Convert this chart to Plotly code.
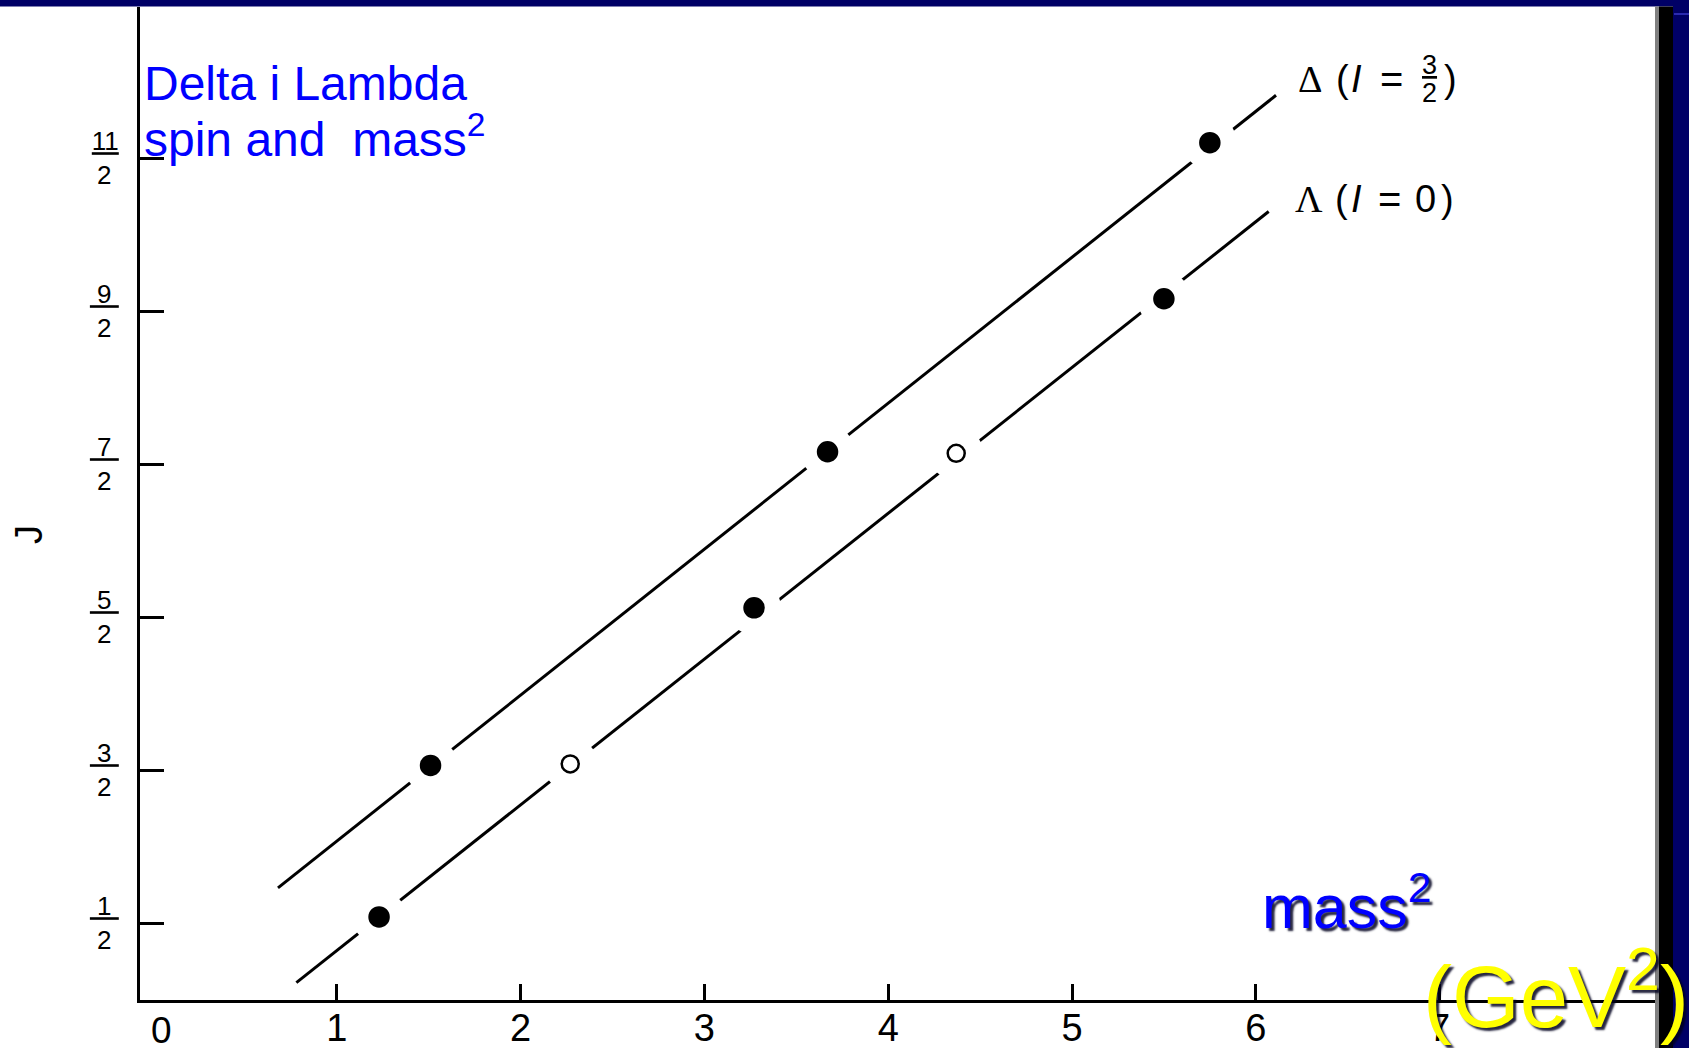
import plotly.graph_objects as go

# ---------------- data ----------------
delta_mass2 = [1.51, 3.67, 5.75]
delta_J = [1.53, 3.58, 5.60]
delta_open = [False, False, False]

lambda_mass2 = [1.23, 2.27, 3.27, 4.37, 5.50]
lambda_J = [0.54, 1.54, 2.56, 3.57, 4.58]
lambda_open = [False, True, False, True, False]

delta_line_mass2 = [0.68, 6.11]
delta_line_J = [0.73, 5.91]
lambda_line_mass2 = [0.78, 6.07]
lambda_line_J = [0.11, 5.15]

x_tick_vals = [1, 2, 3, 4, 5, 6, 7]
x_tick_text = ["1", "2", "3", "4", "5", "6", "7"]
x_zero_label = "0"

j_tick_vals = [0.5, 1.5, 2.5, 3.5, 4.5, 5.5]
j_tick_num = ["1", "3", "5", "7", "9", "11"]
j_tick_den = "2"

# ---------------- layout geometry ----------------
W, H = 1689, 1048
L, R, T, B = 140, 34, 7, 48
PW = W - L - R
PH = H - T - B


def px(p):
    return (p - L) / PW


def py(p):
    return (H - B - p) / PH


NAVY = "#000066"
BLUE = "#0000FF"
SANS = "Liberation Sans, Arial, sans-serif"
SERIF = "Liberation Serif, Times New Roman, serif"
nb = "\u00a0"

j_tick_text = []
for n in j_tick_num:
    num = n if len(n) > 1 else nb + n + nb
    j_tick_text.append("<u>" + num + "</u><br>" + j_tick_den + nb)

fig = go.Figure()

line_style = dict(color="black", width=3)
fig.add_trace(go.Scatter(x=delta_line_mass2, y=delta_line_J, mode="lines",
                         line=line_style, hoverinfo="skip"))
fig.add_trace(go.Scatter(x=lambda_line_mass2, y=lambda_line_J, mode="lines",
                         line=line_style, hoverinfo="skip"))

# white halos that open the gaps in the lines around each state
fig.add_trace(go.Scatter(x=delta_mass2 + lambda_mass2, y=delta_J + lambda_J, mode="markers",
                         marker=dict(color="white", size=54, opacity=1, line=dict(width=0)),
                         hoverinfo="skip"))


def point_trace(xs, ys, opens):
    return go.Scatter(
        x=xs, y=ys, mode="markers", opacity=1,
        marker=dict(
            color=["#ffffff" if o else "#000000" for o in opens],
            size=[17 if o else 19 for o in opens],
            opacity=1,
            line=dict(color="#000000", width=2.5),
        ),
    )


fig.add_trace(point_trace(delta_mass2, delta_J, delta_open))
fig.add_trace(point_trace(lambda_mass2, lambda_J, lambda_open))

x_left = (L - 153) / 183.8
x_right = (W - R - 153) / 183.8
y_bottom = (999.5 - (H - B)) / 153
y_top = (999.5 - T) / 153

fig.update_xaxes(
    range=[x_left, x_right], showgrid=False, zeroline=False, automargin=False,
    showline=True, linecolor="black", linewidth=3,
    ticks="inside", ticklen=16, tickwidth=2.5, tickcolor="black",
    tickvals=x_tick_vals, ticktext=x_tick_text,
    tickfont=dict(family=SANS, size=38, color="black"),
    ticklabelstandoff=-8,
)
fig.update_yaxes(
    range=[y_bottom, y_top], showgrid=False, zeroline=False, automargin=False,
    showline=True, linecolor="black", linewidth=3,
    ticks="inside", ticklen=24, tickwidth=2.5, tickcolor="black",
    tickvals=j_tick_vals, ticktext=j_tick_text,
    tickfont=dict(family=SANS, size=26, color="black"),
    ticklabelstandoff=13,
)

shapes = [
    dict(type="rect", xref="paper", yref="paper", x0=px(-5), x1=px(W + 5), y0=py(6.5), y1=py(-5),
         fillcolor=NAVY, line=dict(width=0), layer="below"),
    dict(type="rect", xref="paper", yref="paper", x0=px(1655), x1=px(1659), y0=py(H + 5), y1=py(6.5),
         fillcolor="#808080", line=dict(width=0), layer="below"),
    dict(type="rect", xref="paper", yref="paper", x0=px(1659), x1=px(1673), y0=py(H + 5), y1=py(6.5),
         fillcolor="black", line=dict(width=0), layer="below"),
    dict(type="rect", xref="paper", yref="paper", x0=px(1673), x1=px(W + 5), y0=py(H + 5), y1=py(-5),
         fillcolor=NAVY, line=dict(width=0), layer="below"),
    dict(type="line", xref="paper", yref="paper", x0=px(1674), x1=px(W + 5), y0=py(14), y1=py(14),
         line=dict(color="#2a2ab0", width=2), layer="below"),
]


def text_ann(text, x, baseline, size, family=SANS, color="black", anchor="left", **font_extra):
    return dict(text=text, x=px(x), xref="paper", y=py(baseline + 0.22 * size), yref="paper",
                showarrow=False, xanchor=anchor, yanchor="bottom", borderpad=0,
                font=dict(family=family, size=size, color=color, **font_extra))


shadow = "3px 3px 2px rgba(0,0,30,0.85)"

ann = [
    # x "0" tick label
    dict(text=x_zero_label, x=0, xref="x", xshift=8, y=py(1030), yref="paper", showarrow=False,
         xanchor="center", yanchor="middle", font=dict(family=SANS, size=37, color="black")),
    # y axis title
    dict(text="J", x=px(29), xref="paper", y=py(535), yref="paper", showarrow=False,
         textangle=-90, xanchor="center", yanchor="middle",
         font=dict(family=SANS, size=38, color="black")),
    # title text
    text_ann("Delta i Lambda", 142.5, 100, 48, color=BLUE),
    text_ann("spin and" + nb + " mass<sup>2</sup>", 142.5, 156, 48, color=BLUE),
    # Delta series label:  Δ (I = 3/2)
    text_ann("\u0394", 1310, 93, 38, family=SERIF, anchor="center"),
    text_ann("(", 1342, 93, 38, anchor="center"),
    text_ann("<i>I</i>", 1356, 93, 38, anchor="center"),
    text_ann("=", 1391, 93, 40, anchor="center"),
    text_ann("<u>3</u>", 1429, 75, 27, anchor="center"),
    text_ann("2", 1429, 103, 27, anchor="center"),
    text_ann(")", 1450, 93, 38, anchor="center"),
    # Lambda series label:  Λ (I = 0)
    text_ann("\u039b", 1309, 213, 38, family=SERIF, anchor="center"),
    text_ann("(", 1341, 213, 38, anchor="center"),
    text_ann("<i>I</i>", 1356, 213, 38, anchor="center"),
    text_ann("=", 1389, 213, 40, anchor="center"),
    text_ann("0", 1425, 213, 38, anchor="center"),
    text_ann(")", 1447, 213, 38, anchor="center"),
    # axis unit labels
    text_ann("mass<sup>2</sup>", 1261, 929, 61, color=BLUE, shadow=shadow),
    text_ann("(GeV<sup>2</sup>)", 1422, 1027, 87, color="#FFFF00", shadow=shadow),
]

fig.update_layout(
    width=W, height=H, autosize=False,
    margin=dict(l=L, r=R, t=T, b=B, pad=0),
    paper_bgcolor="white", plot_bgcolor="white",
    showlegend=False, font=dict(family=SANS),
    shapes=shapes, annotations=ann,
)

fig.write_html(
    "out.html",
    config={"displayModeBar": False},
    post_script="document.body.style.margin='0px';document.body.style.overflow='hidden';",
)
